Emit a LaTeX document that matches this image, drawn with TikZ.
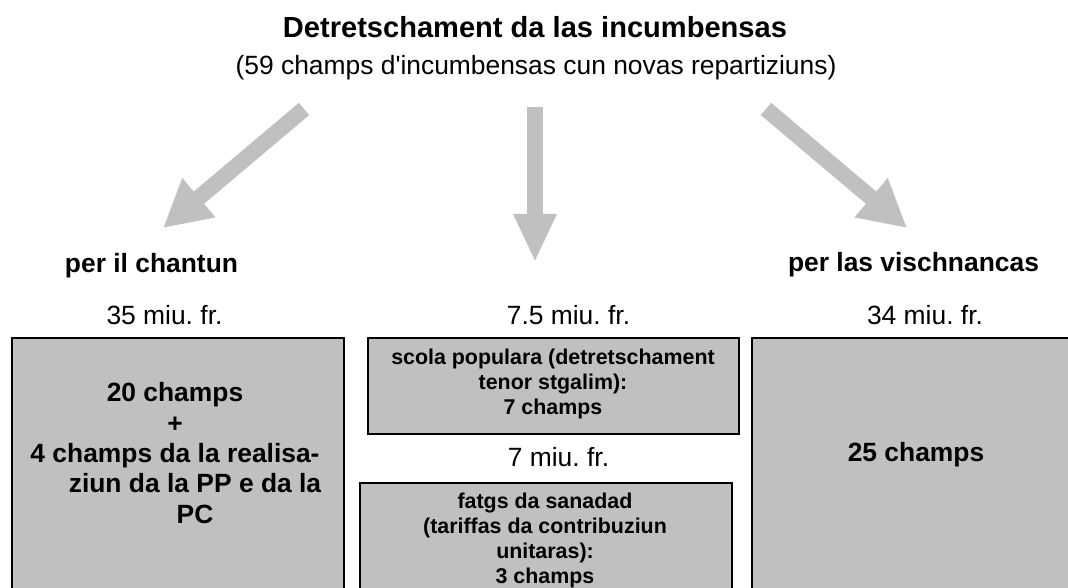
\documentclass[tikz,border=0pt]{standalone}
\usepackage{fontspec}
\setmainfont{Liberation Sans}
\usetikzlibrary{arrows.meta}
\definecolor{boxgray}{HTML}{C0C0C0}
\frenchspacing
\begin{document}
\begin{tikzpicture}[x=1pt,y=-1pt,
  lbl/.style={inner sep=0pt, font=\fontsize{26.4}{30.3}\selectfont},
  blbl/.style={inner sep=0pt, align=center, font=\fontsize{26.4}{30.3}\selectfont\bfseries},
  slbl/.style={inner sep=0pt, align=center, font=\fontsize{21.4}{25}\selectfont\bfseries},
  box/.style={draw=black, fill=boxgray, line width=1.5pt, inner sep=0pt, anchor=north west},
  garrow/.style={draw=boxgray, line width=16pt, -{Triangle[length=48pt,width=40pt]}},
  darrow/.style={draw=boxgray, line width=16pt, -{Triangle[length=47pt,width=48pt]}}
]
\useasboundingbox (0,0) rectangle (1068,588);
\clip (0,0) rectangle (1068,588);
\fill[white] (0,0) rectangle (1068,588);

% title
\node[inner sep=0pt, font=\fontsize{29.07}{33}\selectfont\bfseries] (title) at (535,27) {Detretschament da las incumbensas};
\node[lbl] (subtitle) at (536,68) {(59 champs d\textquotesingle incumbensas cun novas repartiziuns)};

% arrows
\coordinate (lt) at (304,109);
\coordinate (lh) at (163,228);
\coordinate (mt) at (535,107);
\coordinate (mh) at (535,262);
\coordinate (rt) at (766,109);
\coordinate (rh) at (907,228);
\draw[darrow] (lt) -- (lh);
\draw[garrow] (mt) -- (mh);
\draw[darrow] (rt) -- (rh);

% headings
\node[blbl] (chantun) at (151.5,266) {per il chantun};
\node[blbl] (vischn) at (913.5,265) {per las vischnancas};

\node[lbl] (m35) at (164.5,315) {35 miu. fr.};
\node[lbl] (m75) at (568.5,315) {7.5 miu. fr.};
\node[lbl] (m34) at (925,315) {34 miu. fr.};

% boxes
\node[box, minimum width=332pt, minimum height=263pt] (lbox) at (11,337) {};
\node[box, minimum width=371pt, minimum height=96pt] (mtbox) at (367,337) {};
\node[box, minimum width=372pt, minimum height=118pt] (mbbox) at (359,482) {};
\node[box, minimum width=329pt, minimum height=263pt] (rbox) at (751,337) {};

\node[lbl] (m7) at (558.5,457.5) {7 miu. fr.};

% box texts
\node[blbl] (ltext) at (175,453) {20 champs\\+\\4 champs da la realisa-\\\hspace*{40pt}ziun da la PP e da la\\\hspace*{40pt}PC};
\node[slbl] (mttext) at (553,384) {scola populara (detretschament\\tenor stgalim):\\7 champs};
\node[slbl] (mbtext) at (545,540) {fatgs da sanadad\\(tariffas da contribuziun\\unitaras):\\3 champs};
\node[blbl] (rtext) at (916,455) {25 champs};
\end{tikzpicture}
\end{document}
